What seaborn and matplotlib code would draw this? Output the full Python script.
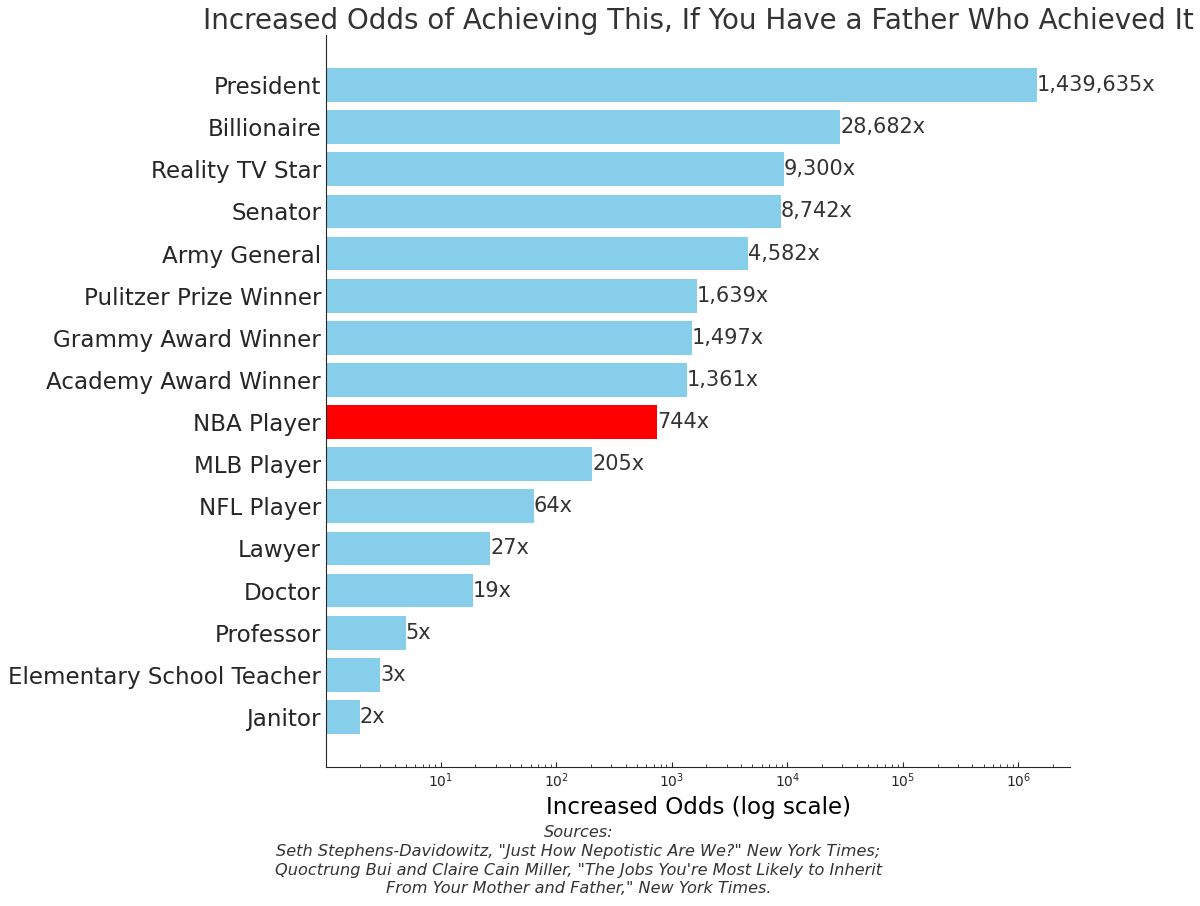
import matplotlib
matplotlib.use("Agg")
import matplotlib.pyplot as plt
import seaborn as sns
import pandas as pd

jobs = ["President", "Billionaire", "Reality TV Star", "Senator", "Army General",
        "Pulitzer Prize Winner", "Grammy Award Winner", "Academy Award Winner",
        "NBA Player", "MLB Player", "NFL Player", "Lawyer", "Doctor", "Professor",
        "Elementary School Teacher", "Janitor"]
odds = [1439635, 28682, 9300, 8742, 4582, 1639, 1497, 1361, 744, 205, 64, 27, 19, 5, 3, 2]
highlight = "NBA Player"

df = pd.DataFrame({"Job": jobs, "Odds": odds})
df["Group"] = ["hi" if j == highlight else "lo" for j in jobs]

sns.set_style("ticks")
plt.rcParams['font.family'] = ['DejaVu Sans']
txt = "#333333"

fig = plt.figure(figsize=(12, 9.06), dpi=100)
ax = fig.add_axes([0.2717, 0.1534, 0.62, 0.8080])

sns.barplot(data=df, x="Odds", y="Job", hue="Group", orient="h",
            palette={"lo": "skyblue", "hi": "red"}, dodge=False, legend=False,
            width=0.8, saturation=1, linewidth=0, ax=ax)
ax.set_xscale("log")
ax.set_xlim(1.02, 2.8e6)
ax.set_ylim(len(jobs) - 1 + 1.19, -1.19)

for i, v in enumerate(odds):
    ax.text(v, i, f"{v:,}x", va="center", ha="left", fontsize=15, color=txt)

ax.set_title("Increased Odds of Achieving This, If You Have a Father Who Achieved It",
             fontsize=20, color=txt, pad=4)
ax.set_xlabel("Increased Odds (log scale)", fontsize=16.6, color="black", labelpad=4)
ax.set_ylabel("")
ax.tick_params(axis="y", labelsize=16.6, direction="in", length=4)
ax.tick_params(axis="x", which="both", direction="in", labelsize=10)
sns.despine(ax=ax)

fig.text(0.482, 0.089,
         "Sources:\nSeth Stephens-Davidowitz, \"Just How Nepotistic Are We?\" New York Times;\n"
         "Quoctrung Bui and Claire Cain Miller, \"The Jobs You're Most Likely to Inherit\n"
         "From Your Mother and Father,\" New York Times.",
         ha="center", va="top", fontsize=11.6, style="italic", color=txt, linespacing=1.3)

fig.savefig("out.png", dpi=100)
